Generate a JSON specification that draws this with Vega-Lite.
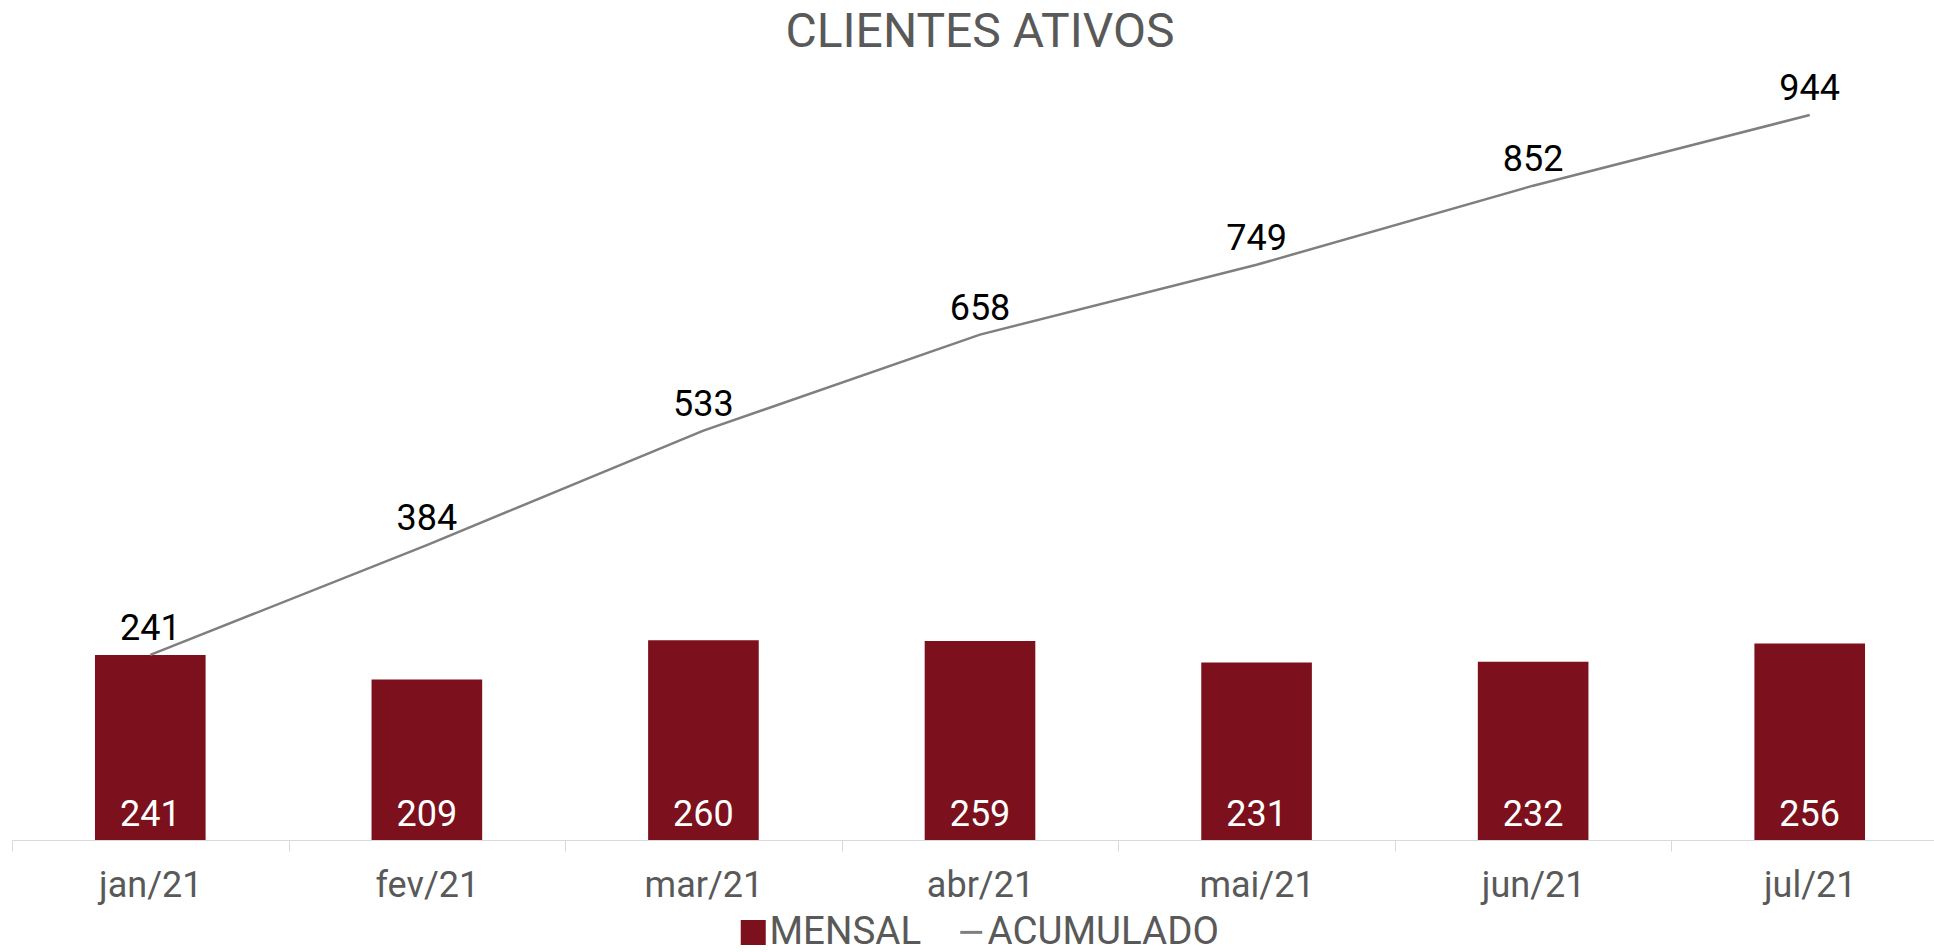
{
  "$schema": "https://vega.github.io/schema/vega-lite/v6.json",
  "autosize": {"type": "none"},
  "padding": {"left": 12, "top": 72, "right": 0, "bottom": 112},
  "width": 1922,
  "height": 768,
  "background": "white",
  "config": {"view": {"stroke": null}, "font": "Roboto"},
  "title": {"text": "CLIENTES ATIVOS", "fontSize": 48, "font": "Roboto", "fontWeight": "normal", "color": "#595959", "anchor": "middle", "frame": "group", "offset": 14, "dx": 7},
  "data": {"values": [
    {"mes": "jan/21", "mensal": 241, "acumulado": 241},
    {"mes": "fev/21", "mensal": 209, "acumulado": 384},
    {"mes": "mar/21", "mensal": 260, "acumulado": 533},
    {"mes": "abr/21", "mensal": 259, "acumulado": 658},
    {"mes": "mai/21", "mensal": 231, "acumulado": 749},
    {"mes": "jun/21", "mensal": 232, "acumulado": 852},
    {"mes": "jul/21", "mensal": 256, "acumulado": 944}
  ]},
  "encoding": {
    "x": {"field": "mes", "type": "nominal", "sort": null,
      "scale": {"paddingInner": 0, "paddingOuter": 0, "range": [0, 1936]},
      "axis": {"title": null, "labelAngle": 0, "tickBand": "extent", "domainColor": "#d9d9d9", "tickColor": "#d9d9d9", "tickSize": 11, "labelColor": "#595959", "labelFontSize": 36, "labelFont": "Roboto", "labelPadding": 17.6, "grid": false}}
  },
  "layer": [
    {
      "mark": {"type": "bar", "color": "#7C101C", "width": {"band": 0.4}},
      "encoding": {
        "y": {"field": "mensal", "type": "quantitative", "scale": {"domain": [0, 1000]}, "axis": null},
        "color": {"datum": "MENSAL", "type": "nominal",
          "scale": {"domain": ["MENSAL", "ACUMULADO"], "range": ["#7C101C", "#7F7F7F"]},
          "legend": {"title": null, "orient": "none", "direction": "horizontal", "legendX": 722, "legendY": 841, "padding": 0,
            "labelFontSize": 38.5, "labelFont": "Roboto", "labelColor": "#595959", "labelOffset": -3, "columnPadding": 30, "labelLimit": 0,
            "symbolSize": 484, "symbolStrokeWidth": 3,
            "encode": {"symbols": {"update": {
              "shape": {"signal": "datum.value === 'MENSAL' ? 'square' : 'stroke'"},
              "fill": {"signal": "datum.value === 'MENSAL' ? '#7C101C' : 'transparent'"},
              "stroke": {"signal": "datum.value === 'MENSAL' ? 'transparent' : '#7F7F7F'"},
              "strokeWidth": {"value": 3},
              "opacity": {"value": 1}
            }}}}}
      }
    },
    {
      "mark": {"type": "text", "color": "white", "fontSize": 36, "font": "Roboto", "baseline": "alphabetic", "dy": -14},
      "encoding": {
        "y": {"datum": 0, "type": "quantitative"},
        "text": {"field": "mensal", "type": "quantitative"}
      }
    },
    {
      "mark": {"type": "line", "color": "#7F7F7F", "strokeWidth": 2.5},
      "encoding": {
        "y": {"field": "acumulado", "type": "quantitative"},
        "color": {"datum": "ACUMULADO", "type": "nominal"}
      }
    },
    {
      "mark": {"type": "text", "color": "black", "fontSize": 36, "font": "Roboto", "baseline": "alphabetic", "dy": -15},
      "encoding": {
        "y": {"field": "acumulado", "type": "quantitative"},
        "text": {"field": "acumulado", "type": "quantitative"}
      }
    }
  ]
}
